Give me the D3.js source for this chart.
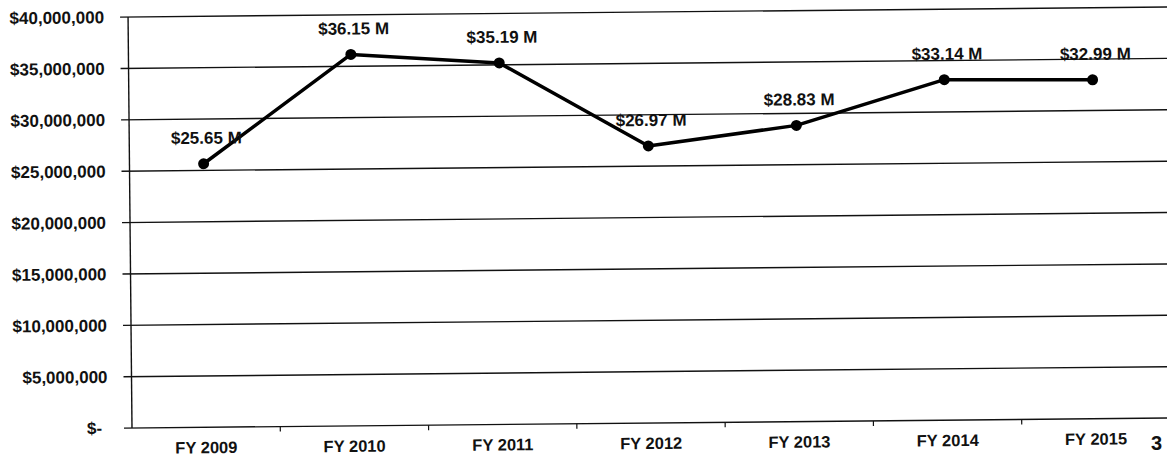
<!DOCTYPE html>
<html>
<head>
  <meta charset="utf-8">
  <script src="https://d3js.org/d3.v7.min.js"></script>
  <style>
    html, body { margin: 0; padding: 0; background: #fff; }
    text { font-family: "Liberation Sans", Arial, sans-serif; font-weight: bold; fill: #111; }
  </style>
</head>
<body>
  <svg id="chart" width="1167" height="460"></svg>
  <script>
    // values
    const years = ["FY 2009", "FY 2010", "FY 2011", "FY 2012", "FY 2013", "FY 2014", "FY 2015"];
    const funding = [25.65, 36.15, 35.19, 26.97, 28.83, 33.14, 32.99]; // $ millions
    const yTicks = [0, 5, 10, 15, 20, 25, 30, 35, 40]; // $ millions
    const pageNumber = "3";

    const plotL = 132, plotR = 1170, plotT = 17, plotB = 428;

    const x = d3.scaleBand().domain(years).range([plotL, plotR]);
    const y = d3.scaleLinear().domain([0, 40]).range([plotB, plotT]);

    const svg = d3.select("#chart");
    // the scan is a little tilted
    const g = svg.append("g")
      .attr("transform", `rotate(-0.55, ${plotL}, ${plotB})`);

    const fmt = d => d === 0 ? "$-" : "$" + d3.format(",")(d * 1e6);

    // gridlines
    g.selectAll("line.grid")
      .data(yTicks)
      .join("line")
      .attr("class", "grid")
      .attr("x1", plotL - 8)
      .attr("x2", plotR + 20)
      .attr("y1", d => y(d))
      .attr("y2", d => y(d))
      .attr("stroke", "#111")
      .attr("stroke-width", 1.4);

    // y axis line
    g.append("line")
      .attr("x1", plotL).attr("x2", plotL)
      .attr("y1", plotT).attr("y2", plotB)
      .attr("stroke", "#111").attr("stroke-width", 1.4);

    // y labels
    g.selectAll("text.ylab")
      .data(yTicks)
      .join("text")
      .attr("class", "ylab")
      .attr("x", d => d === 0 ? plotL - 30 : plotL - 24)
      .attr("y", d => y(d))
      .attr("dy", "0.35em")
      .attr("text-anchor", "end")
      .style("font-size", "17px")
      .text(fmt);

    // x ticks at band boundaries
    g.selectAll("line.xtick")
      .data(years.slice(1))
      .join("line")
      .attr("class", "xtick")
      .attr("x1", d => x(d)).attr("x2", d => x(d))
      .attr("y1", plotB).attr("y2", plotB + 5)
      .attr("stroke", "#111").attr("stroke-width", 1.2);

    // x labels
    g.selectAll("text.xlab")
      .data(years)
      .join("text")
      .attr("class", "xlab")
      .attr("x", d => x(d) + x.bandwidth() / 2)
      .attr("y", plotB + 26)
      .attr("text-anchor", "middle")
      .style("font-size", "16.5px")
      .text(d => d);

    // line
    const pts = years.map((d, i) => [x(d) + x.bandwidth() / 2, y(funding[i])]);
    g.append("path")
      .attr("d", d3.line()(pts))
      .attr("fill", "none")
      .attr("stroke", "#000")
      .attr("stroke-width", 3.5)
      .attr("stroke-linejoin", "round");

    g.selectAll("circle")
      .data(funding)
      .join("circle")
      .attr("cx", (d, i) => pts[i][0])
      .attr("cy", d => y(d))
      .attr("r", 5.5)
      .attr("fill", "#000");

    // data labels
    g.selectAll("text.val")
      .data(funding)
      .join("text")
      .attr("class", "val")
      .attr("x", (d, i) => pts[i][0] + 3)
      .attr("y", d => y(d) - 20)
      .attr("text-anchor", "middle")
      .style("font-size", "17px")
      .text(d => "$" + d.toFixed(2) + " M");

    // page number
    svg.append("text")
      .attr("x", 1162)
      .attr("y", 450)
      .attr("text-anchor", "end")
      .style("font-size", "20px")
      .text(pageNumber);
  </script>
</body>
</html>
